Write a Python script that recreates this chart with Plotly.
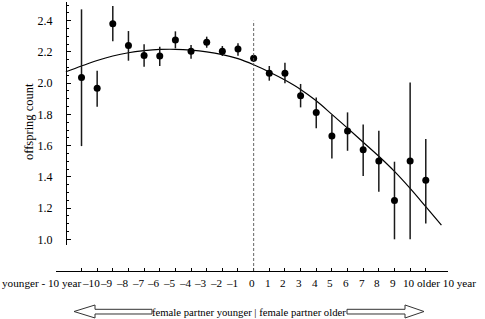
import plotly.graph_objects as go

# ---------------- data ----------------
categories = ["younger - 10 year", "–10", "–9", "–8", "–7", "–6", "–5", "–4", "–3", "–2", "–1",
              "0", "1", "2", "3", "4", "5", "6", "7", "8", "9", "10", "older 10 year"]
positions = list(range(-11, 12))
offspring_mean = [2.037, 1.967, 2.381, 2.242, 2.178, 2.174, 2.276, 2.204, 2.262, 2.204, 2.219,
                  2.159, 2.063, 2.063, 1.920, 1.813, 1.661, 1.693, 1.574, 1.501, 1.249, 1.501, 1.378]
ci_upper = [2.473, 2.080, 2.494, 2.334, 2.249, 2.233, 2.332, 2.244, 2.298, 2.238, 2.255,
            2.180, 2.110, 2.131, 1.995, 1.909, 1.796, 1.813, 1.736, 1.695, 1.497, 2.005, 1.642]
ci_lower = [1.597, 1.849, 2.268, 2.144, 2.105, 2.110, 2.223, 2.157, 2.227, 2.174, 2.176,
            2.137, 2.016, 2.000, 1.845, 1.711, 1.518, 1.567, 1.405, 1.305, 1.000, 1.000, 1.102]
fit_x = list(range(-12, 13))
fit_y = [2.073, 2.110, 2.145, 2.174, 2.195, 2.208, 2.216, 2.217, 2.212, 2.201, 2.183, 2.157,
         2.118, 2.072, 2.020, 1.960, 1.887, 1.800, 1.712, 1.622, 1.532, 1.435, 1.326, 1.209, 1.091]
y_ticks = [1.0, 1.2, 1.4, 1.6, 1.8, 2.0, 2.2, 2.4]
y_title = "offspring count"
bottom_text = "female partner younger | female partner older"

# ---------------- layout geometry ----------------
W, H = 485, 319
ML, MR, MT, MB = 56, 37, 2, 48
PW, PH = W - ML - MR, H - MT - MB
XMIN, XMAX = -12.63, 12.42
YMIN, YMAX = 0.9635, 2.52
FONT = "Liberation Serif"
XLAB_SIZE = 11.2


def px(x):
    return (x - ML) / PW


def py(y):
    return (H - MB - y) / PH


def xdata_to_paper(v):
    return (v - XMIN) / (XMAX - XMIN)


fig = go.Figure()

fig.add_trace(go.Scatter(
    x=fit_x, y=fit_y, mode="lines", line=dict(color="black", width=1.2, shape="spline"),
    hoverinfo="skip", showlegend=False))

fig.add_trace(go.Scatter(
    x=positions, y=offspring_mean, mode="markers",
    marker=dict(color="black", size=7),
    error_y=dict(type="data", symmetric=False,
                 array=[u - m for u, m in zip(ci_upper, offspring_mean)],
                 arrayminus=[m - l for m, l in zip(offspring_mean, ci_lower)],
                 color="#1a1a1a", thickness=1.5, width=0),
    showlegend=False))

annotations = []
# x category labels
for pos, lab in zip(positions, categories):
    if pos == -11:
        annotations.append(dict(x=pos, y=py(283), xref="x", yref="paper", text=lab, showarrow=False,
                                xanchor="right", yanchor="middle", xshift=1,
                                font=dict(family=FONT, size=XLAB_SIZE, color="black")))
    elif pos == 11:
        annotations.append(dict(x=pos, y=py(283), xref="x", yref="paper", text=lab, showarrow=False,
                                xanchor="left", yanchor="middle", xshift=-11,
                                font=dict(family=FONT, size=XLAB_SIZE, color="black")))
    else:
        shift = -6 if pos < 0 else -1.5
        annotations.append(dict(x=pos, y=py(283), xref="x", yref="paper", text=lab, showarrow=False,
                                xanchor="center", yanchor="middle", xshift=shift,
                                font=dict(family=FONT, size=XLAB_SIZE, color="black")))

annotations.append(dict(x=px(29), y=py(122), xref="paper", yref="paper", text=y_title,
                        showarrow=False, textangle=-90, xanchor="center", yanchor="middle",
                        font=dict(family=FONT, size=12.5, color="black")))
annotations.append(dict(x=px(248.5), y=py(311.5), xref="paper", yref="paper", text=bottom_text,
                        showarrow=False, xanchor="center", yanchor="middle",
                        font=dict(family=FONT, size=10.7, color="black")))

shapes = []
# dashed vertical line at 0
shapes.append(dict(type="line", xref="paper", yref="paper",
                   x0=xdata_to_paper(0), x1=xdata_to_paper(0), y0=0,
                   y1=(2.4 - YMIN) / (YMAX - YMIN) * (1 - 26 / PH) + 26 / PH,
                   line=dict(color="#555", width=0.9, dash="3px,2px")))


def arrow_path(points):
    return "M " + " L ".join(f"{px(a):.5f},{py(b):.5f}" for a, b in points) + " Z"


left_arrow = [(74, 311.5), (95, 305), (95, 309.3), (152, 309.3), (152, 314), (95, 314), (95, 318)]
right_arrow = [(424, 311.5), (405, 305), (405, 309.3), (347, 309.3), (347, 314), (405, 314), (405, 318)]
for pts in (left_arrow, right_arrow):
    shapes.append(dict(type="path", xref="paper", yref="paper", path=arrow_path(pts),
                       line=dict(color="#333", width=1), fillcolor="white"))

fig.update_layout(
    width=W, height=H, autosize=False,
    margin=dict(l=ML, r=MR, t=MT, b=MB, pad=0),
    paper_bgcolor="white", plot_bgcolor="white",
    font=dict(family=FONT, size=12, color="black"),
    xaxis=dict(domain=[0, 1], range=[XMIN, XMAX], anchor="free", position=0,
               showline=True, linecolor="black", linewidth=1,
               ticks="inside", ticklen=3, tickwidth=1, tickcolor="black",
               tickmode="array", tickvals=positions, showticklabels=False,
               showgrid=False, zeroline=False),
    yaxis=dict(domain=[26 / PH, 1], range=[YMIN, YMAX], anchor="free", position=px(66),
               showline=True, linecolor="black", linewidth=1.3,
               ticks="inside", ticklen=4, tickwidth=1, tickcolor="black",
               tickmode="array", tickvals=y_ticks, ticktext=[f"{v:.1f}" for v in y_ticks],
               ticklabelstandoff=11,
               minor=dict(ticks="inside", ticklen=2, tickwidth=1, tickcolor="black",
                          tickmode="linear", tick0=1.0, dtick=0.05, showgrid=False),
               showgrid=False, zeroline=False,
               tickfont=dict(family=FONT, size=12, color="black")),
    annotations=annotations,
    shapes=shapes,
)

fig.write_html("out.html", config={"displayModeBar": False},
               post_script="document.body.style.margin='0px';document.body.style.padding='0px';")
